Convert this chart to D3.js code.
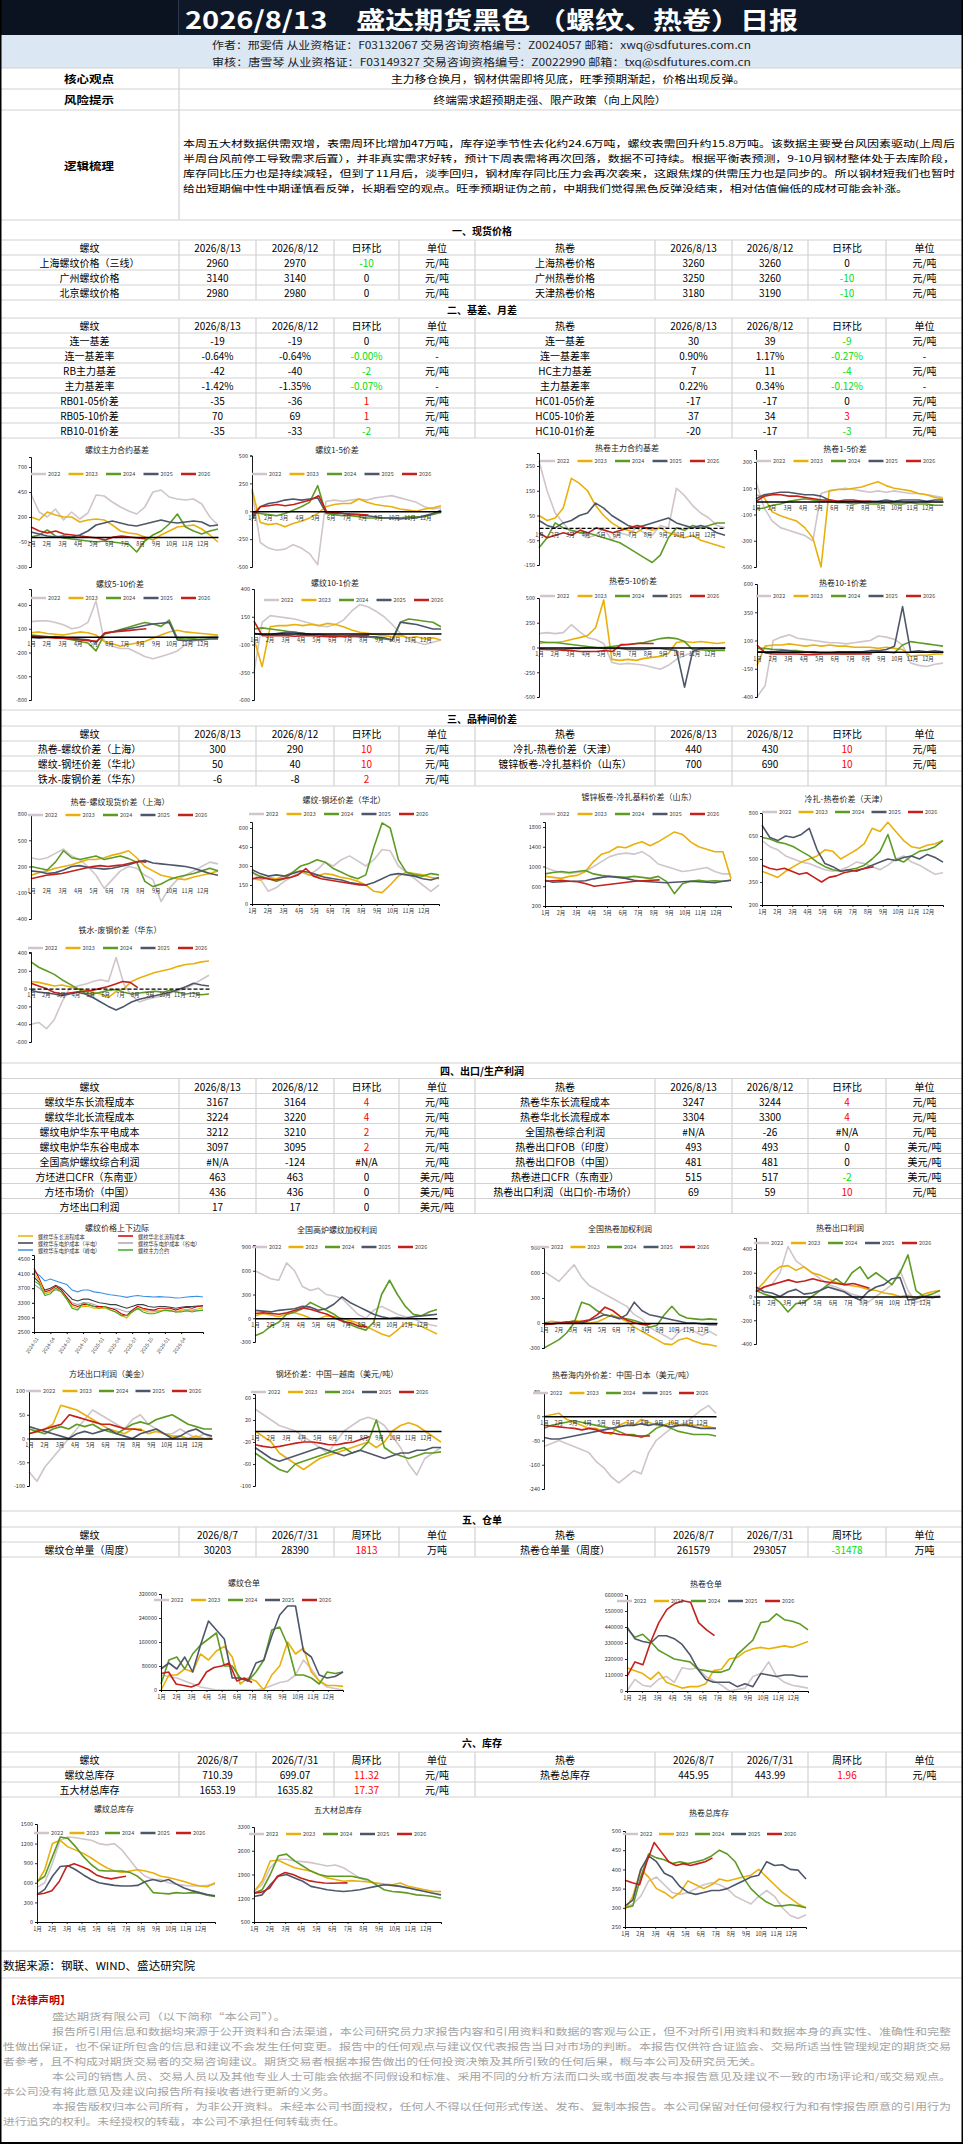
<!DOCTYPE html>
<html><head><meta charset="utf-8">
<script src="https://cdn.jsdelivr.net/npm/d3@7/dist/d3.min.js"></script>
<style>
body{margin:0;background:#fff}
svg{display:block}
text{font-family:"Noto Sans CJK SC","Noto Sans",sans-serif}
</style>
</head><body>
<svg id="c" width="963" height="2144"></svg>
<script>
// ---------------- DATA ----------------
const yearNames = ["2022","2023","2024","2025","2026"];
const monthLabels = ["1月","2月","3月","4月","5月","6月","7月","8月","9月","10月","11月","12月"];

const titleText = "2026/8/13　盛达期货黑色 （螺纹、热卷）日报";
const authorLines = [
  "作者：邢雯倩  从业资格证：F03132067  交易咨询资格编号：Z0024057 邮箱：xwq@sdfutures.com.cn",
  "审核：唐雪琴  从业资格证：F03149327  交易咨询资格编号：Z0022990 邮箱：txq@sdfutures.com.cn"
];
const coreView = "主力移仓换月，钢材供需即将见底，旺季预期渐起，价格出现反弹。";
const riskView = "终端需求超预期走强、限产政策（向上风险）";
const logicLines = [
  "本周五大材数据供需双增，表需周环比增加47万吨，库存逆季节性去化约24.6万吨，螺纹表需回升约15.8万吨。该数据主要受台风因素驱动(上周后",
  "半周台风前停工导致需求后置），并非真实需求好转，预计下周表需将再次回落，数据不可持续。根据平衡表预测，9-10月钢材整体处于去库阶段，",
  "库存同比压力也是持续减轻，但到了11月后，淡季回归，钢材库存同比压力会再次袭来，这跟焦煤的供需压力也是同步的。所以钢材短我们也暂时",
  "给出短期偏中性中期谨慎看反弹，长期看空的观点。旺季预期证伪之前，中期我们觉得黑色反弹没结束，相对估值偏低的成材可能会补涨。"
];

const dailyHead = ["螺纹","2026/8/13","2026/8/12","日环比","单位","热卷","2026/8/13","2026/8/12","日环比","单位"];
const weeklyHead = ["螺纹","2026/8/7","2026/7/31","周环比","单位","热卷","2026/8/7","2026/7/31","周环比","单位"];
const spotRows = [
  ["上海螺纹价格（三线）","2960","2970","-10","元/吨","上海热卷价格","3260","3260","0","元/吨"],
  ["广州螺纹价格","3140","3140","0","元/吨","广州热卷价格","3250","3260","-10","元/吨"],
  ["北京螺纹价格","2980","2980","0","元/吨","天津热卷价格","3180","3190","-10","元/吨"]
];
const basisRows = [
  ["连一基差","-19","-19","0","元/吨","连一基差","30","39","-9","元/吨"],
  ["连一基差率","-0.64%","-0.64%","-0.00%","-","连一基差率","0.90%","1.17%","-0.27%","-"],
  ["RB主力基差","-42","-40","-2","元/吨","HC主力基差","7","11","-4","元/吨"],
  ["主力基差率","-1.42%","-1.35%","-0.07%","-","主力基差率","0.22%","0.34%","-0.12%","-"],
  ["RB01-05价差","-35","-36","1","元/吨","HC01-05价差","-17","-17","0","元/吨"],
  ["RB05-10价差","70","69","1","元/吨","HC05-10价差","37","34","3","元/吨"],
  ["RB10-01价差","-35","-33","-2","元/吨","HC10-01价差","-20","-17","-3","元/吨"]
];
const crossRows = [
  ["热卷-螺纹价差（上海）","300","290","10","元/吨","冷扎-热卷价差（天津）","440","430","10","元/吨"],
  ["螺纹-钢坯价差（华北）","50","40","10","元/吨","镀锌板卷-冷扎基料价（山东）","700","690","10","元/吨"],
  ["铁水-废钢价差（华东）","-6","-8","2","元/吨","","","","",""]
];
const profitRows = [
  ["螺纹华东长流程成本","3167","3164","4","元/吨","热卷华东长流程成本","3247","3244","4","元/吨"],
  ["螺纹华北长流程成本","3224","3220","4","元/吨","热卷华北长流程成本","3304","3300","4","元/吨"],
  ["螺纹电炉华东平电成本","3212","3210","2","元/吨","全国热卷综合利润","#N/A","-26","#N/A","元/吨"],
  ["螺纹电炉华东谷电成本","3097","3095","2","元/吨","热卷出口FOB（印度）","493","493","0","美元/吨"],
  ["全国高炉螺纹综合利润","#N/A","-124","#N/A","元/吨","热卷出口FOB（中国）","481","481","0","美元/吨"],
  ["方坯进口CFR（东南亚）","463","463","0","美元/吨","热卷进口CFR（东南亚）","515","517","-2","美元/吨"],
  ["方坯市场价（中国）","436","436","0","美元/吨","热卷出口利润（出口价-市场价）","69","59","10","元/吨"],
  ["方坯出口利润","17","17","0","美元/吨","","","","",""]
];
const warrantRows = [
  ["螺纹仓单量（周度）","30203","28390","1813","万吨","热卷仓单量（周度）","261579","293057","-31478","万吨"]
];
const stockRows = [
  ["螺纹总库存","710.39","699.07","11.32","元/吨","热卷总库存","445.95","443.99","1.96","元/吨"],
  ["五大材总库存","1653.19","1635.82","17.37","元/吨","","","","",""]
];

// seasonal series: [2022, 2023, 2024, 2025, 2026]
const rbMainBasis = [
  [430,250,200,280,170,250,180,240,420,410,350,300,260,230,300,450,470,400,380,370,380,330,200,120],
  [200,170,250,220,200,200,150,170,180,170,120,60,40,30,0,-30,20,60,100,110,120,80,20,-50],
  [0,20,70,10,-10,-20,-30,-40,-50,-40,-50,-60,-70,-150,-40,20,60,130,230,100,60,30,60,80],
  [50,30,10,0,10,0,20,60,120,140,160,140,120,110,130,150,170,150,140,150,160,150,110,120],
  [100,60,40,60,30,20,10,0,-10,-30,0,10,0,-10,-20]
];
const rb15Spread = [
  [180,-280,-330,-350,-340,-300,-330,-380,-480,90,100,90,100,110,100,120,130,140,120,100,80,40,20,30],
  [200,-100,-120,-110,-140,-110,-90,-60,-20,40,60,70,70,110,80,60,50,40,20,10,0,20,30,50],
  [-10,-20,-30,-40,-20,10,40,80,230,-20,-30,-40,-40,-50,-60,-60,-60,-60,-60,-50,-50,-50,-30,-10],
  [-70,40,70,80,100,110,100,110,120,-10,-20,-20,-30,-30,-40,-50,-60,-60,-70,-60,-60,-40,-20,10],
  [-40,40,50,60,50,60,80,100,140,-10,-10,-20,-25,-30,-35]
];
const hcMainBasis = [
  [270,150,60,20,-20,0,-40,-30,0,-50,-20,-30,0,-20,-30,10,0,160,130,90,60,40,10,0],
  [50,30,40,80,200,180,150,90,50,20,0,-10,-20,0,-10,0,-20,-30,-40,-30,-50,-60,-70,-80],
  [-80,-40,20,0,-10,-20,-20,-30,-40,-50,-60,-80,-100,-120,-140,-110,-40,0,-10,10,0,10,20,20],
  [30,10,0,20,30,50,60,100,80,50,30,10,0,10,20,30,40,20,10,0,10,0,-20,-30],
  [-20,-40,-30,-20,-30,-10,-20,0,-10,-20,-10,0,10,0,0]
];
const hc15Spread = [
  [150,-50,-150,-200,-220,-240,-260,-300,60,80,90,100,90,80,70,80,70,80,70,60,60,50,40,30],
  [50,30,-80,-110,-130,-150,-200,-280,-500,80,90,90,100,110,130,150,120,100,90,80,60,50,30,20],
  [-60,-50,-30,-20,0,10,20,10,0,0,-10,-10,-20,-10,-20,-20,-10,-20,-20,-10,-20,-20,-30,-30],
  [20,50,60,70,70,60,50,50,40,10,0,10,10,0,0,0,10,0,10,10,10,0,10,10],
  [0,40,50,50,40,40,30,20,10,10,0,0,0,0,0]
];
const rb510Spread = [
  [190,200,200,180,150,100,120,180,450,-50,-120,-150,-150,-200,-250,-280,-250,-220,-180,-100,-60,-20,0,10],
  [50,60,40,30,20,40,60,50,20,-60,-90,-120,-100,-80,-60,-20,20,60,80,60,50,40,30,20],
  [20,10,0,-10,-20,-40,-60,-80,-180,30,60,90,120,150,180,160,130,210,-20,-30,-20,-10,-20,-20],
  [-10,-20,-10,0,-10,-20,-30,-40,-70,40,60,80,100,120,140,160,170,180,-40,-50,-40,-40,-30,-30],
  [10,0,-10,-20,-20,-30,-40,-50,-60,50,60,70,80,90,100]
];
const rb101Spread = [
  [-350,100,160,150,140,130,110,90,70,60,80,120,200,260,240,200,150,80,0,-50,-80,-100,-80,-60],
  [-50,-300,60,70,70,80,70,80,70,90,80,60,30,10,0,-10,-20,-30,-20,-40,-30,-50,-40,-60],
  [40,50,40,30,20,10,0,-10,-10,-20,-20,-20,-30,-30,-30,-40,-50,-60,100,130,120,110,100,60],
  [0,-10,-10,0,10,10,0,-10,-10,-20,-20,-30,-20,-30,-30,-30,-40,-60,100,90,80,60,40,40],
  [110,-20,-20,-20,-20,-25,-20,-20,-25,-30,-30,-25,-20,-20,-15]
];
const hc510Spread = [
  [140,150,140,150,230,160,100,80,40,-150,-170,-160,-170,-180,-200,-220,-180,-120,-80,-50,-30,-20,-20,-20],
  [40,50,50,60,80,100,120,200,480,-120,-130,-120,-130,-110,-100,-90,-60,50,60,50,60,50,40,50],
  [60,50,50,40,30,20,10,0,0,10,20,30,40,50,70,90,100,90,60,-20,-20,-30,-30,-30],
  [-10,-20,-20,-20,-10,-10,0,0,-10,-10,-10,-20,-20,-20,-10,-10,-20,-30,-400,-40,-10,-10,-10,-10],
  [-20,-20,-20,-30,-30,-40,-40,-40,-30,-40,30,30,40,40,40]
];
const hc101Spread = [
  [-400,-300,100,130,150,120,110,100,90,80,80,70,80,90,100,140,130,110,60,-100,-120,-130,-110,-100],
  [-120,50,60,60,70,60,50,60,50,60,50,50,40,40,40,30,40,30,20,-40,-30,-30,-20,-20],
  [30,30,20,20,10,10,0,-10,-10,-10,-15,-20,-15,-10,-10,0,0,-10,60,90,80,70,60,50],
  [0,0,0,10,10,0,0,0,-10,-10,0,0,0,0,10,10,20,50,400,0,10,0,10,0],
  [60,-10,-20,-20,-20,-20,-25,-25,-20,-20,-20,-20,-20,-20,-20]
];
const hcRbSpotSpread = [
  [300,280,300,350,400,320,280,200,100,-50,50,150,200,180,100,50,-200,-50,50,100,150,200,250,230],
  [100,130,150,180,200,220,250,280,280,300,330,350,380,300,200,150,100,80,60,50,80,100,120,150],
  [200,180,160,250,380,300,280,300,320,280,300,320,290,250,30,-30,0,50,80,100,120,150,180,150],
  [150,140,120,130,160,200,210,190,180,170,180,200,220,250,270,240,230,220,210,200,180,150,120,100],
  [60,80,100,110,120,140,160,180,200,210,200,210,220,240,260,250]
];
const rbBilletSpread = [
  [250,200,100,130,180,220,250,230,270,330,300,350,380,340,300,350,430,420,300,250,200,150,100,150],
  [200,190,210,200,220,250,260,230,220,240,230,210,200,180,150,100,90,150,220,250,240,230,210,200],
  [250,220,200,180,200,250,300,320,350,330,280,250,220,200,230,450,640,600,350,250,230,220,240,230],
  [270,240,220,230,220,240,260,250,230,210,200,190,170,160,150,170,200,230,240,230,220,200,190,210],
  [200,210,200,190,200,210,230,280,220,200,190,180,170,160,150,150]
];
const galvColdSpread = [
  [980,920,880,860,880,900,1000,1100,1200,1250,1270,1250,1300,1200,1050,1000,950,900,920,950,980,900,850,850],
  [800,780,760,800,820,900,1100,1250,1300,1400,1380,1450,1500,1420,1500,1600,1700,1650,1500,1400,1350,1300,1300,750],
  [850,880,900,880,900,920,850,820,800,790,780,800,780,760,800,700,450,650,700,720,700,710,700,720],
  [720,680,690,700,700,710,750,780,800,780,760,720,700,690,680,670,680,690,700,690,680,670,700,720],
  [700,710,720,700,690,650,600,620,640,660,680,700,710,720,730]
];
const coldHotSpread = [
  [620,580,560,520,500,480,470,450,430,420,430,450,480,470,450,430,460,500,520,480,460,430,400,410],
  [420,400,380,420,450,480,500,520,560,550,500,530,560,600,700,680,740,680,620,580,570,590,600,620],
  [640,630,610,600,580,550,520,480,450,430,420,430,440,460,500,550,660,500,480,520,550,560,580,620],
  [720,640,620,650,640,660,700,560,470,450,420,430,420,440,460,480,500,490,510,520,500,530,510,480],
  [460,440,430,440,420,400,410,380,350,380,390,410,420,430,440,450]
];
const ironScrapSpread = [
  [-400,-380,-450,-350,-150,0,30,50,80,100,80,350,50,-80,-150,-120,-100,-80,-50,-20,0,50,100,150],
  [80,70,50,30,40,20,0,-20,-40,-60,-100,-30,0,80,120,150,180,200,220,250,270,280,300,310],
  [300,240,200,160,100,50,0,-50,-60,-40,-20,-10,-40,-60,-50,-40,-30,-40,-20,-40,-60,-50,-70,-60],
  [-20,-40,-50,-60,-80,-60,-40,-60,-100,-150,-200,-240,-200,-150,-120,-100,-80,-60,-40,-10,20,60,40,30],
  [60,30,0,-40,-60,-50,-40,-30,-20,0,20,50,80,70,10]
];
const rbFurnaceProfit = [
  [600,550,500,480,700,600,400,350,380,300,280,250,150,50,0,100,150,100,50,20,0,-50,-80,-100],
  [30,60,40,20,50,70,40,0,-10,30,20,0,-30,-60,-100,-150,-200,-230,-150,-60,-80,-100,-150,-200],
  [-220,-180,-100,-50,50,80,120,200,150,100,50,-20,-80,-120,-150,-50,300,480,300,150,50,30,80,110],
  [100,90,80,100,110,120,150,140,100,120,180,270,200,150,100,50,20,0,10,0,20,30,40,50],
  [60,70,60,50,70,100,130,110,80,50,0,-40,-60,-100,-110]
];
const hcFurnaceProfit = [
  [620,560,500,600,700,550,450,400,350,300,250,200,100,50,-50,-100,-150,-200,-100,-50,-100,-150,-100,-150],
  [0,20,10,0,30,20,0,10,50,100,60,20,-50,-100,-150,-200,-250,-260,-200,-180,-220,-250,-260,-280],
  [-300,-250,-200,-120,0,250,220,150,100,80,60,50,30,0,-50,-30,100,200,100,60,50,40,50,40],
  [0,-10,0,10,20,0,30,60,100,80,50,100,250,150,100,80,60,40,20,0,0,-10,-20,-20],
  [-20,-10,0,10,0,20,40,100,190,150,80,30,0,-20,-10]
];
const hcExportProfit = [
  [50,80,100,200,420,300,250,200,150,100,80,50,20,0,-50,0,50,100,220,50,-50,-30,0,10],
  [50,120,200,250,260,220,250,200,180,150,120,100,90,80,60,50,30,20,0,10,-10,20,40,50],
  [50,20,0,-50,-130,-60,-50,0,50,100,150,100,200,250,150,200,150,100,200,350,50,0,20,50],
  [80,40,30,0,40,60,20,30,50,80,60,40,0,-30,40,80,100,150,160,-30,-20,0,-10,0],
  [40,80,100,120,140,120,130,150,130,120,110,100,110,90,70]
];
const billetExportProfit = [
  [-70,-90,-60,-40,-20,0,20,40,60,50,40,30,20,40,50,30,20,10,10,20,10,0,10,0],
  [10,15,20,30,70,65,60,50,40,30,20,15,10,20,20,10,15,10,5,5,0,5,0,0],
  [20,15,10,20,25,20,30,25,30,20,15,10,20,30,35,30,40,45,50,40,30,25,20,20],
  [25,20,15,10,5,0,10,15,10,15,20,10,5,0,10,15,20,10,0,5,15,20,10,5],
  [10,15,20,25,30,50,45,40,35,30,30,25,20,20,17]
];
const billetCnVn = [
  [40,30,20,10,5,0,-10,-20,-30,-40,-20,0,10,20,25,20,10,-10,-30,-60,-80,-50,-40,-30],
  [0,-10,-20,-40,-50,-60,-70,-60,-50,-45,-40,-35,-30,-25,-20,-30,-20,0,10,15,10,0,-10,-20],
  [-40,-50,-60,-70,-75,-60,-55,-50,-45,-40,-35,-30,-40,-35,-20,20,-30,-40,-45,-50,-45,-40,-40,-38],
  [-30,-40,-50,-55,-50,-45,-40,-35,-30,-35,-40,-45,-40,-35,-40,-45,-50,-45,-40,-40,-35,-35,-30,-30],
  [-25,-28,-30,-28,-25,-22,-20,-20,-22,-25,-25,-22,-20,-15,-10]
];
const hcCnJp = [
  [-100,-90,-80,-90,-100,-110,-120,-150,-170,-200,-220,-200,-180,-190,-120,-80,-60,-40,-30,-20,0,20,35,10],
  [0,5,10,-10,-20,-30,-40,-40,-50,-60,-30,-20,-30,-10,-20,-30,-30,-20,-30,-25,-30,-30,-35,-40],
  [-40,-30,-25,-20,-15,-20,-25,-30,-35,-40,-50,-60,-60,-70,-60,-40,-30,-40,-50,-55,-60,-60,-60,-65],
  [-70,-75,-75,-70,-65,-60,-55,-50,-45,-40,-35,-30,-30,-25,-30,-25,-30,-35,-30,-30,-35,-40,-40,-40],
  [-30,-32,-35,-38,-40,-45,-40,-45,-55,-55,-60,-62,-65,-65,-65]
];
const rbWarrant = [
  [50000,45000,40000,30000,20000,10000,5000,0,0,0,0,0,0,5000,15000,25000,30000,50000,100000,70000,30000,10000,5000,0],
  [0,50000,50000,70000,60000,120000,100000,130000,145000,110000,20000,40000,30000,0,50000,80000,160000,120000,140000,60000,30000,15000,15000,12000],
  [20000,100000,110000,70000,120000,150000,170000,190000,80000,80000,40000,30000,60000,100000,200000,210000,150000,50000,50000,40000,20000,60000,55000,60000],
  [70000,90000,70000,110000,60000,150000,230000,200000,170000,40000,40000,30000,90000,100000,180000,250000,280000,280000,130000,110000,50000,40000,45000,60000],
  [55000,60000,20000,15000,10000,20000,60000,75000,80000,90000,30000,40000,25000]
];
const hcWarrant = [
  [0,80000,40000,30000,80000,100000,60000,160000,150000,160000,100000,70000,40000,0,10000,20000,100000,120000,200000,100000,60000,40000,30000,20000],
  [160000,140000,120000,80000,130000,60000,40000,20000,30000,30000,50000,140000,150000,220000,230000,270000,290000,300000,290000,300000,310000,300000,320000,340000],
  [430000,370000,390000,340000,280000,250000,220000,210000,200000,150000,140000,130000,130000,150000,250000,300000,350000,470000,480000,530000,490000,480000,460000,420000],
  [440000,360000,340000,330000,380000,380000,360000,320000,250000,150000,80000,60000,60000,60000,30000,50000,30000,120000,110000,100000,110000,110000,100000,100000],
  [100000,200000,180000,340000,470000,560000,600000,620000,610000,470000,420000,380000]
];
const rbStock = [
  [530,600,900,1250,1300,1290,1270,1250,1200,1180,1200,1100,950,800,700,650,650,600,580,560,550,550,560,580],
  [600,800,1200,1250,1150,1100,1050,980,900,830,780,760,780,800,780,750,700,680,650,620,580,550,540,600],
  [620,700,1000,1300,1280,1150,1000,880,790,780,780,780,760,700,600,450,440,430,450,440,450,440,410,390],
  [420,500,700,850,860,800,720,650,600,580,560,550,550,560,620,650,620,650,580,520,480,450,420,400],
  [420,440,480,620,850,890,850,800,720,680,660,680,700]
];
const fiveStock = [
  [1400,1600,2100,2350,2350,2300,2280,2250,2200,2150,2180,2100,1950,1800,1700,1650,1600,1580,1550,1500,1450,1450,1400,1400],
  [1400,1700,2300,2320,2200,2100,2050,2000,1900,1800,1750,1700,1720,1700,1680,1650,1620,1600,1650,1550,1500,1450,1400,1400],
  [1350,1450,1900,2450,2500,2300,2150,2000,1900,1850,1850,1850,1850,1800,1750,1600,1450,1400,1380,1350,1300,1280,1250,1200],
  [1250,1300,1600,1850,1900,1800,1700,1550,1500,1450,1420,1400,1420,1450,1500,1550,1600,1580,1550,1500,1450,1400,1350,1300],
  [1350,1380,1500,1850,1960,1900,1800,1720,1680,1650,1640,1650,1653]
];
const hcStock = [
  [300,310,330,370,380,360,340,335,340,350,360,365,360,350,330,320,310,330,345,330,300,280,272,282],
  [295,330,400,380,350,340,325,340,370,360,350,360,375,370,375,380,385,400,380,360,340,325,310,300],
  [300,305,380,440,430,425,415,420,415,420,425,435,450,440,420,380,350,330,315,305,305,308,305,300],
  [305,320,400,435,420,390,380,355,340,335,340,345,345,350,360,370,380,385,420,410,412,400,398,375],
  [372,365,360,420,470,445,420,410,415,410,415,420,430]
];

// 螺纹价格上下边际 (monthly, 2024-01 .. 2026-08)
const marginTickLabels = ["2024-01","2024-04","2024-07","2024-10","2025-01","2025-04","2025-07","2025-10","2026-01","2026-04"];
const marginNames = ["螺纹华东长流程成本","螺纹华北长流程成本","螺纹华东电炉成本（平电）","螺纹华东电炉成本（谷电）","螺纹华东电炉成本（峰电）","螺纹主力合约"];
const marginLongEast = [4100,3900,3550,3600,3700,3600,3400,3200,3150,3200,3200,3150,3150,3150,3100,3050,2950,2880,3050,3150,3100,3050,3050,3080,3100,3100,3050,3100,3120,3100,3130,3167];
const marginLongNorth = [4250,3950,3600,3650,3750,3650,3450,3250,3200,3250,3250,3200,3200,3200,3150,3100,3000,2950,3100,3200,3150,3120,3100,3150,3150,3150,3100,3150,3180,3150,3200,3224];
const marginEafFlat = [4000,3850,3650,3700,3780,3700,3550,3400,3350,3400,3400,3350,3300,3280,3250,3250,3200,3150,3200,3250,3250,3200,3180,3200,3200,3180,3150,3180,3200,3200,3210,3212];
const marginEafValley = [3800,3700,3550,3600,3650,3600,3450,3300,3250,3300,3300,3250,3200,3180,3150,3150,3100,3050,3080,3120,3120,3100,3080,3080,3090,3080,3050,3070,3080,3080,3090,3097];
const marginEafPeak = [4150,4050,3900,3950,3900,3850,3800,3650,3600,3650,3650,3600,3580,3550,3520,3500,3480,3450,3480,3500,3480,3470,3460,3470,3460,3450,3430,3440,3460,3470,3480,3460];
const marginFutures = [3900,3800,3500,3550,3700,3600,3400,3150,3100,3300,3250,3200,3150,3200,3100,3050,2950,2950,3050,3150,3050,3000,3000,3050,3100,3080,3050,3050,3080,3050,3080,3100];

const sourceText = "数据来源：钢联、WIND、盛达研究院";
const legalTitle = "【法律声明】";
const legalLines = [
  "盛达期货有限公司（以下简称“本公司”）。",
  "报告所引用信息和数据均来源于公开资料和合法渠道，本公司研究员力求报告内容和引用资料和数据的客观与公正，但不对所引用资料和数据本身的真实性、准确性和完整",
  "性做出保证，也不保证所包含的信息和建议不会发生任何变更。报告中的任何观点与建议仅代表报告当日对市场的判断。本报告仅供符合证监会、交易所适当性管理规定的期货交易",
  "者参考，且不构成对期货交易者的交易咨询建议。期货交易者根据本报告做出的任何投资决策及其所引致的任何后果，概与本公司及研究员无关。",
  "本公司的销售人员、交易人员以及其他专业人士可能会依据不同假设和标准、采用不同的分析方法而口头或书面发表与本报告意见及建议不一致的市场评论和/或交易观点。",
  "本公司没有将此意见及建议向报告所有接收者进行更新的义务。",
  "本报告版权归本公司所有，为非公开资料。未经本公司书面授权，任何人不得以任何形式传送、发布、复制本报告。本公司保留对任何侵权行为和有悖报告原意的引用行为",
  "进行追究的权利。未经授权的转载，本公司不承担任何转载责任。"
];

// ---------------- STYLE / LAYOUT ----------------
const svg = d3.select('#c');
const FONT = '"Noto Sans CJK SC","Noto Sans",sans-serif';
const yearColors = ["#cfc5ca","#e9b00c","#5d9b24","#4e5769","#c4201c"];
const GRID = "#d2d2d2";
const colX = [0,179,256,334,399,475,655,732,808,886,963];

function T(x, y, s, o = {}) {
  const t = svg.append('text').attr('x', x).attr('y', y).text(s)
    .attr('font-size', o.fs || 10).attr('fill', o.fill || '#000')
    .attr('text-anchor', o.anchor || 'middle').attr('dominant-baseline', 'central');
  if (o.bold) t.attr('font-weight', 'bold');
  if (o.len) t.attr('textLength', o.len).attr('lengthAdjust', 'spacingAndGlyphs');
  return t;
}
function hline(y, x1 = 0, x2 = 963, c = GRID, w = 1.2) {
  svg.append('line').attr('x1', x1).attr('x2', x2).attr('y1', y).attr('y2', y).attr('stroke', c).attr('stroke-width', w);
}
function vline(x, y1, y2, c = GRID, w = 1.2) {
  svg.append('line').attr('x1', x).attr('x2', x).attr('y1', y1).attr('y2', y2).attr('stroke', c).attr('stroke-width', w);
}
function chgColor(s) {
  if (s.startsWith('-') && s.length > 1) return '#00e000';
  if (/^[0-9.]+%?$/.test(s) && parseFloat(s) !== 0) return '#ff0000';
  return '#000';
}
function table(top, head, rows, rowH = 15) {
  const all = [head].concat(rows);
  all.forEach((r, i) => {
    const cy = top + rowH * (i + 0.5);
    r.forEach((cell, j) => {
      if (cell === '') return;
      const cx = (colX[j] + colX[j + 1]) / 2;
      const isChg = i > 0 && (j === 3 || j === 8);
      T(cx, cy, cell, { fs: 10, fill: isChg ? chgColor(cell) : '#000' });
    });
  });
  for (let i = 0; i <= all.length; i++) hline(top + rowH * i);
  for (let j = 1; j < colX.length - 1; j++) vline(colX[j], top, top + rowH * all.length);
}
function sectionTitle(y1, y2, s) {
  hline(y1);
  T(482, (y1 + y2) / 2, s, { fs: 10, bold: true });
}

// ---------------- HEADER ----------------
svg.append('rect').attr('x', 0).attr('y', 0).attr('width', 963).attr('height', 35).attr('fill', '#0e1828');
svg.append('rect').attr('x', 0).attr('y', 0).attr('width', 178).attr('height', 35).attr('fill', '#0b1320');
vline(178.5, 0, 35, '#2d3a4e', 1);
T(185, 18, titleText, { fs: 24, fill: '#fff', anchor: 'start', len: 613, bold: true });
svg.append('rect').attr('x', 0).attr('y', 35).attr('width', 963).attr('height', 33).attr('fill', '#dce7f4');
T(212, 44.5, authorLines[0], { fs: 10.5, fill: '#222', anchor: 'start', len: 539 });
T(212, 61, authorLines[1], { fs: 10.5, fill: '#222', anchor: 'start', len: 539 });
hline(68); hline(89); hline(110); hline(220);
vline(179, 68, 220);
T(89, 78.5, "核心观点", { fs: 10.5, bold: true, len: 50 });
T(568, 78.5, coreView, { fs: 10, len: 354 });
T(89, 99.5, "风险提示", { fs: 10.5, bold: true, len: 50 });
T(550, 99.5, riskView, { fs: 10, len: 233 });
T(89, 165, "逻辑梳理", { fs: 10.5, bold: true, len: 50 });
const logicLens = [772, 772, 772, 725];
logicLines.forEach((s, i) => T(183, 143 + i * 15, s, { fs: 9.5, anchor: 'start', len: logicLens[i] }));

// ---------------- TABLES ----------------
T(482, 230, "一、现货价格", { fs: 10, bold: true });
table(240, dailyHead, spotRows);
T(482, 309, "二、基差、月差", { fs: 10, bold: true });
table(318, dailyHead, basisRows);
sectionTitle(710, 726, "三、品种间价差");
table(726, dailyHead, crossRows);
sectionTitle(1063, 1078, "四、出口/生产利润");
table(1078.5, dailyHead, profitRows);
sectionTitle(1511, 1527, "五、仓单");
table(1527, weeklyHead, warrantRows);
sectionTitle(1733, 1752, "六、库存");
table(1752, weeklyHead, stockRows);

// ---------------- CHARTS ----------------
function seasonal(c, data) {
  const g = svg.append('g');
  const y0 = d3.scaleLinear().domain([c.a[0], c.b[0]]).range([c.a[1], c.b[1]]);
  const top = c.top !== undefined ? c.top : c.a[1];
  const bot = c.b[1];
  const y = d3.scaleLinear().domain([y0.invert(top), y0.invert(bot)]).range([top, bot]);
  const x = d3.scaleLinear().domain([0, 12]).range([c.x0, c.x1]);
  g.append('text').attr('x', c.tx).attr('y', c.ty).text(c.title)
    .attr('font-size', 8).attr('fill', '#222').attr('text-anchor', 'middle').attr('dominant-baseline', 'central');
  const line = d3.line().x(d => x(d[0])).y(d => y(d[1]));
  data.forEach((arr, i) => {
    const end = i === 4 ? (c.end || 7.4) : 12;
    const pts = arr.map((v, k) => [k * end / (arr.length - 1), v]);
    g.append('path').attr('d', line(pts)).attr('fill', 'none').attr('stroke', yearColors[i])
      .attr('stroke-width', 1.6).attr('stroke-linejoin', 'round');
  });
  const ya = g.append('g').attr('transform', `translate(${c.x0},0)`)
    .call(d3.axisLeft(y).tickValues(c.ticks).tickSize(2).tickPadding(2).tickFormat(d => String(d)));
  ya.select('.domain').attr('stroke', '#000').attr('stroke-width', 0.9);
  ya.selectAll('.tick line').attr('stroke', '#000').attr('stroke-width', 0.8);
  ya.selectAll('text').attr('font-size', 5.5).attr('fill', '#333').attr('font-family', FONT);
  const mode = c.mode || 'zero';
  const axY = mode === 'bottom' ? bot : y(0);
  const xa = g.append('g').attr('transform', `translate(0,${axY})`)
    .call(d3.axisBottom(x).tickValues(d3.range(12)).tickSize(mode === 'bottom' ? 2 : 0)
      .tickPadding(mode === 'bottom' ? 3 : 5).tickFormat(i => monthLabels[i]));
  xa.selectAll('text').attr('font-size', 5.5).attr('fill', '#333').attr('font-family', FONT);
  xa.selectAll('.tick line').attr('stroke', '#000').attr('stroke-width', 0.8);
  const dom = xa.select('.domain');
  if (mode === 'zero') dom.attr('stroke', '#000').attr('stroke-width', 1.5);
  else if (mode === 'dash') dom.attr('stroke', '#000').attr('stroke-width', 1.3).attr('stroke-dasharray', '4,2');
  else if (mode === 'none') dom.remove();
  else dom.attr('stroke', '#000').attr('stroke-width', 1);
  const ls = c.ls || 37.5;
  yearNames.forEach((n, i) => {
    const lx = c.lx + i * ls;
    g.append('line').attr('x1', lx).attr('x2', lx + 15).attr('y1', c.ly).attr('y2', c.ly)
      .attr('stroke', yearColors[i]).attr('stroke-width', 2.5);
    g.append('text').attr('x', lx + 17).attr('y', c.ly).text(n).attr('font-size', 5.5).attr('fill', '#444')
      .attr('dominant-baseline', 'central');
  });
}

const layouts = [
  [{ title: "螺纹主力合约基差", tx: 117, ty: 449, x0: 31, x1: 218, a: [700, 467], b: [-300, 567], top: 457, ticks: [700, 450, 200, -50, -300], lx: 31, ly: 474 }, rbMainBasis],
  [{ title: "螺纹1-5价差", tx: 337, ty: 449, x0: 252, x1: 441, a: [500, 455.5], b: [-500, 567], ticks: [500, 250, 0, -250, -500], lx: 252, ly: 474 }, rb15Spread],
  [{ title: "热卷主力合约基差", tx: 627, ty: 447, x0: 539, x1: 725, a: [250, 466], b: [-150, 565], top: 453, ticks: [250, 150, 50, -50, -150], lx: 540, ly: 461, mode: 'dash' }, hcMainBasis],
  [{ title: "热卷1-5价差", tx: 845, ty: 448, x0: 756, x1: 943, a: [300, 462], b: [-500, 567], top: 450, ticks: [300, 100, -100, -300, -500], lx: 756, ly: 461 }, hc15Spread],
  [{ title: "螺纹5-10价差", tx: 120, ty: 583, x0: 31, x1: 218, a: [400, 605], b: [-800, 700], top: 589, ticks: [400, 100, -200, -500, -800], lx: 31, ly: 598 }, rb510Spread],
  [{ title: "螺纹10-1价差", tx: 335, ty: 582, x0: 254, x1: 441, a: [400, 589], b: [-600, 700], ticks: [400, 150, -100, -350, -600], lx: 264, ly: 600 }, rb101Spread],
  [{ title: "热卷5-10价差", tx: 633, ty: 580, x0: 539, x1: 725, a: [500, 598], b: [-500, 697], ticks: [500, 250, 0, -250, -500], lx: 540, ly: 596 }, hc510Spread],
  [{ title: "热卷10-1价差", tx: 843, ty: 582, x0: 757, x1: 943, a: [600, 584], b: [-400, 697], ticks: [600, 350, 100, -150, -400], lx: 756, ly: 596 }, hc101Spread],
  [{ title: "热卷-螺纹现货价差（上海）", tx: 120, ty: 801, x0: 31, x1: 218, a: [800, 814], b: [-400, 919], ticks: [800, 500, 200, -100, -400], lx: 28, ly: 815, mode: 'none' }, hcRbSpotSpread],
  [{ title: "螺纹-钢坯价差（华北）", tx: 344, ty: 799, x0: 252, x1: 439, a: [600, 828], b: [0, 904], top: 822, ticks: [600, 450, 300, 150, 0], lx: 249, ly: 814, mode: 'bottom' }, rbBilletSpread],
  [{ title: "镀锌板卷-冷扎基料价差（山东）", tx: 639, ty: 796, x0: 545, x1: 731, a: [1800, 827], b: [200, 906], top: 822, ticks: [1800, 1400, 1000, 600, 200], lx: 540, ly: 814, mode: 'bottom' }, galvColdSpread],
  [{ title: "冷扎-热卷价差（天津）", tx: 846, ty: 798, x0: 762, x1: 943, a: [800, 813], b: [200, 905], ticks: [800, 650, 500, 350, 200], lx: 762, ly: 812, ls: 36.5, mode: 'bottom' }, coldHotSpread],
  [{ title: "铁水-废钢价差（华东）", tx: 120, ty: 929, x0: 31, x1: 209, a: [400, 953], b: [-600, 1042], top: 952, ticks: [400, 200, 0, -200, -400, -600], lx: 28, ly: 948, mode: 'dash', end: 7.2 }, ironScrapSpread],
  [{ title: "全国高炉螺纹加权利润", tx: 337, ty: 1229, x0: 255, x1: 437, a: [900, 1247], b: [-300, 1342], top: 1245, ticks: [900, 600, 300, 0, -300], lx: 252, ly: 1247, ls: 36.5 }, rbFurnaceProfit],
  [{ title: "全国热卷加权利润", tx: 620, ty: 1228, x0: 544, x1: 717, a: [900, 1248], b: [-300, 1348], ticks: [900, 600, 300, 0, -300], lx: 534, ly: 1247, ls: 36.5 }, hcFurnaceProfit],
  [{ title: "热卷出口利润", tx: 840, ty: 1227, x0: 756, x1: 940, a: [400, 1249], b: [-400, 1344], top: 1238, ticks: [400, 200, 0, -200, -400], lx: 754, ly: 1243, ls: 37 }, hcExportProfit],
  [{ title: "方坯出口利润（美金）", tx: 109, ty: 1373, x0: 29, x1: 212, a: [100, 1391], b: [-100, 1486], ticks: [100, 50, 0, -50, -100], lx: 26, ly: 1391, ls: 36.5 }, billetExportProfit],
  [{ title: "钢坯价差：中国—越南（美元/吨）", tx: 337, ty: 1373, x0: 255, x1: 441, a: [60, 1398], b: [-100, 1486], top: 1394, ticks: [60, 20, -20, -60, -100], lx: 251, ly: 1392, ls: 37 }, billetCnVn],
  [{ title: "热卷海内外价差：中国-日本（美元/吨）", tx: 623, ty: 1374, x0: 544, x1: 716, a: [80, 1392], b: [-240, 1489], ticks: [80, 0, -80, -160, -240], lx: 533, ly: 1393, ls: 36.5 }, hcCnJp],
  [{ title: "螺纹仓单", tx: 244, ty: 1582, x0: 161, x1: 343, a: [320000, 1594], b: [0, 1690], ticks: [320000, 240000, 160000, 80000, 0], lx: 154, ly: 1600, ls: 37, mode: 'bottom', end: 6 }, rbWarrant],
  [{ title: "热卷仓单", tx: 706, ty: 1583, x0: 627, x1: 808, a: [660000, 1595], b: [0, 1691], ticks: [660000, 550000, 440000, 330000, 220000, 110000, 0], lx: 617, ly: 1601, ls: 37, mode: 'bottom', end: 5.8 }, hcWarrant],
  [{ title: "螺纹总库存", tx: 114, ty: 1808, x0: 37, x1: 215, a: [1500, 1824], b: [0, 1922], ticks: [1500, 1200, 900, 600, 300, 0], lx: 34, ly: 1833, ls: 35.5, mode: 'bottom', end: 6 }, rbStock],
  [{ title: "五大材总库存", tx: 338, ty: 1809, x0: 254, x1: 441, a: [3300, 1827], b: [500, 1922], ticks: [3300, 2600, 1900, 1200, 500], lx: 249, ly: 1834, ls: 37, mode: 'bottom', end: 6 }, fiveStock],
  [{ title: "热卷总库存", tx: 709, ty: 1812, x0: 625, x1: 806, a: [500, 1831], b: [250, 1927], ticks: [500, 450, 400, 350, 300, 250], lx: 623, ly: 1834, ls: 36, mode: 'bottom', end: 5.8 }, hcStock]
];
layouts.forEach(([c, d]) => seasonal(c, d));

// 螺纹价格上下边际
(function () {
  const g = svg.append('g');
  const series = [marginLongEast, marginLongNorth, marginEafFlat, marginEafValley, marginEafPeak, marginFutures];
  const cols = ["#e8b000", "#cc0000", "#3a3f4a", "#a9a9a9", "#3d8fe3", "#3aac2a"];
  const x = d3.scaleLinear().domain([0, marginLongEast.length - 1]).range([34, 203]);
  const y0 = d3.scaleLinear().domain([4500, 2500]).range([1259, 1332]);
  const y = d3.scaleLinear().domain([y0.invert(1255), 2500]).range([1255, 1332]);
  g.append('text').attr('x', 117).attr('y', 1227).text("螺纹价格上下边际").attr('font-size', 8).attr('fill', '#222')
    .attr('text-anchor', 'middle').attr('dominant-baseline', 'central');
  const line = d3.line().x((d, i) => x(i)).y(d => y(d));
  [3, 2, 4, 1, 0, 5].forEach(i => {
    g.append('path').attr('d', line(series[i])).attr('fill', 'none').attr('stroke', cols[i]).attr('stroke-width', 1.1);
  });
  const ya = g.append('g').attr('transform', 'translate(34,0)')
    .call(d3.axisLeft(y).tickValues([4500, 4100, 3700, 3300, 2900, 2500]).tickSize(2).tickPadding(2).tickFormat(d => String(d)));
  ya.select('.domain').attr('stroke', '#000').attr('stroke-width', 0.9);
  ya.selectAll('text').attr('font-size', 5.5).attr('fill', '#333').attr('font-family', FONT);
  const xa = g.append('g').attr('transform', 'translate(0,1332)')
    .call(d3.axisBottom(x).tickValues(d3.range(marginTickLabels.length).map(i => i * 3)).tickSize(2)
      .tickFormat((d, i) => marginTickLabels[i]));
  xa.select('.domain').attr('stroke', '#000').attr('stroke-width', 1);
  xa.selectAll('text').attr('font-size', 5).attr('fill', '#444').attr('font-family', FONT)
    .attr('text-anchor', 'end').attr('transform', 'translate(0,2) rotate(-55)').attr('dy', '0.3em').attr('dx', '-0.3em');
  const lpos = [[18, 1236], [118, 1236], [18, 1243], [118, 1243], [18, 1250], [118, 1250]];
  marginNames.forEach((n, i) => {
    const [lx, ly] = lpos[i];
    g.append('line').attr('x1', lx).attr('x2', lx + 15).attr('y1', ly).attr('y2', ly).attr('stroke', cols[i]).attr('stroke-width', 1.5);
    g.append('text').attr('x', lx + 20).attr('y', ly).text(n).attr('font-size', 5.2).attr('fill', '#333').attr('dominant-baseline', 'central');
  });
})();

// ---------------- FOOTER ----------------
hline(1951);
T(3, 1965, sourceText, { fs: 11, anchor: 'start', len: 192 });
hline(1978);
T(5, 1999, legalTitle, { fs: 10.5, anchor: 'start', fill: '#c00000', bold: true, len: 66 });
const legalStart = [52, 52, 3, 3, 52, 3, 52, 3];
const legalEnd = [286, 951, 951, 762, 951, 335, 951, 345];
legalLines.forEach((s, i) => T(legalStart[i], 2016 + i * 15, s, { fs: 9.5, anchor: 'start', fill: '#a3a3a3', len: legalEnd[i] - legalStart[i] }));

// outer border
vline(0.75, 0, 2144, '#000', 1.5);
vline(962.25, 0, 2144, '#000', 1.5);
hline(2143, 0, 963, '#000', 2);
</script>
</body></html>
